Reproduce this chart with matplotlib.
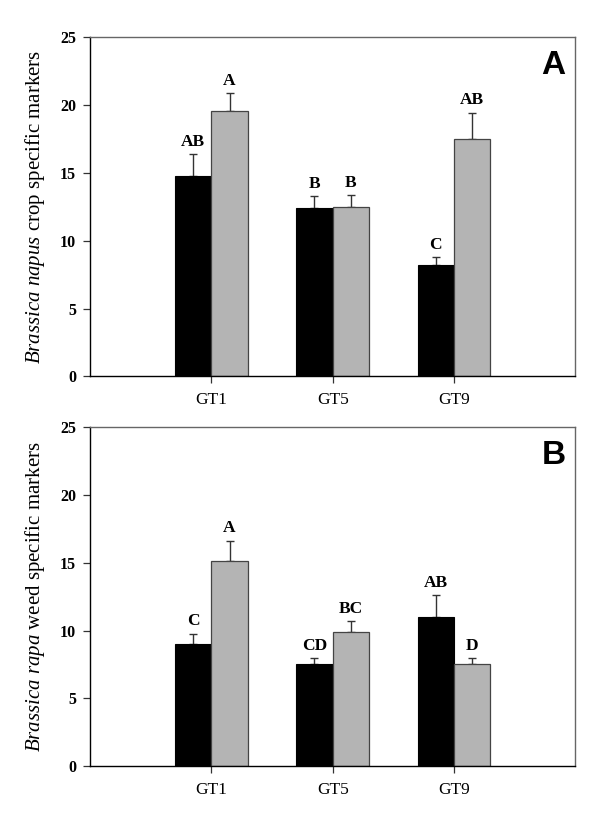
import matplotlib
matplotlib.use("Agg")
import matplotlib.pyplot as plt
import numpy as np

categories = ["GT1", "GT5", "GT9"]

# Panel A: Brassica napus crop specific markers
a_black = [14.8, 12.4, 8.2]
a_black_err = [1.6, 0.9, 0.57]
a_gray = [19.6, 12.5, 17.5]
a_gray_err = [1.3, 0.88, 1.95]
a_black_letters = ["AB", "B", "C"]
a_gray_letters = ["A", "B", "AB"]

# Panel B: Brassica rapa weed specific markers
b_black = [9.05, 7.57, 11.03]
b_black_err = [0.74, 0.44, 1.58]
b_gray = [15.16, 9.88, 7.57]
b_gray_err = [1.48, 0.81, 0.42]
b_black_letters = ["C", "CD", "AB"]
b_gray_letters = ["A", "BC", "D"]

yticks = [0, 5, 10, 15, 20, 25]

plt.rcParams['font.family'] = ['Liberation Serif', 'DejaVu Serif']
plt.rcParams['mathtext.fontset'] = 'custom'
plt.rcParams['mathtext.rm'] = 'Liberation Serif'
plt.rcParams['mathtext.it'] = 'Liberation Serif:italic'

fig = plt.figure(figsize=(6.0, 8.26), dpi=100)
ax_a = fig.add_axes([0.15, 0.5444, 0.8088, 0.4104])
ax_b = fig.add_axes([0.15, 0.0723, 0.8088, 0.4104])

W = 0.30
GRAY = "#b4b4b4"


def panel(ax, black, berr, gray, gerr, bl, gl, ylabel, tag):
    x = np.arange(1, len(categories) + 1)
    xb = x - W / 2
    xg = x + W / 2
    ax.errorbar(xb, black, yerr=[np.zeros(len(black)), berr], fmt='none',
                ecolor='#333333', elinewidth=1.0, capsize=3, capthick=1.0, zorder=1)
    ax.errorbar(xg, gray, yerr=[np.zeros(len(gray)), gerr], fmt='none',
                ecolor='#333333', elinewidth=1.0, capsize=3, capthick=1.0, zorder=1)
    ax.bar(xb, black, width=W, color='black', edgecolor='black', linewidth=0.8, zorder=2)
    ax.bar(xg, gray, width=W, color=GRAY, edgecolor='#444444', linewidth=0.9, zorder=2)
    for xi, v, e, t in zip(xb, black, berr, bl):
        ax.annotate(t, (xi, v + e), xytext=(0, 3), textcoords='offset points',
                    ha='center', va='bottom', fontsize=12.5, fontweight='bold')
    for xi, v, e, t in zip(xg, gray, gerr, gl):
        ax.annotate(t, (xi, v + e), xytext=(0, 3), textcoords='offset points',
                    ha='center', va='bottom', fontsize=12.5, fontweight='bold')
    ax.set_xlim(0, 4)
    ax.set_ylim(0, 25)
    ax.set_yticks(yticks)
    ax.set_yticklabels([str(t) for t in yticks], fontweight='bold', fontsize=11.5)
    ax.set_xticks(x)
    ax.set_xticklabels(categories, fontsize=12.5)
    ax.tick_params(axis='both', direction='out', length=5, width=0.9, color='#333333')
    ax.tick_params(axis='x', pad=6)
    ax.tick_params(axis='y', pad=5)
    ax.set_ylabel(ylabel, fontsize=15, labelpad=9)
    for s in ['left', 'bottom']:
        ax.spines[s].set_color('black')
        ax.spines[s].set_linewidth(1.0)
    for s in ['top', 'right']:
        ax.spines[s].set_color('#666666')
        ax.spines[s].set_linewidth(1.0)
    ax.text(0.98, 0.962, tag, transform=ax.transAxes, ha='right', va='top',
            fontsize=24, fontweight='bold', family='Liberation Sans')


panel(ax_a, a_black, a_black_err, a_gray, a_gray_err, a_black_letters, a_gray_letters,
      r'$\it{Brassica\ napus}$ crop specific markers', 'A')
panel(ax_b, b_black, b_black_err, b_gray, b_gray_err, b_black_letters, b_gray_letters,
      r'$\it{Brassica\ rapa}$ weed specific markers', 'B')

fig.savefig("out.png", dpi=100)
